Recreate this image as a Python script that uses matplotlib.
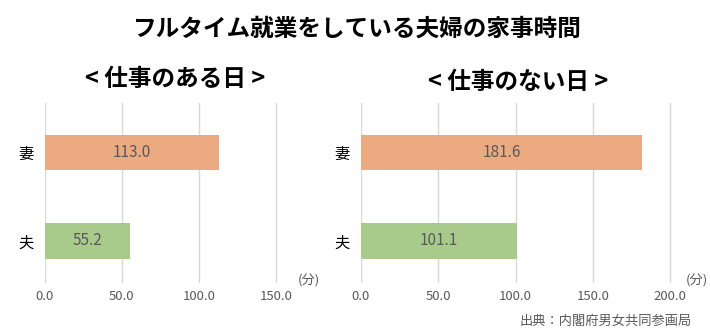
import matplotlib.pyplot as plt

plt.rcParams['font.family'] = ['Noto Sans CJK JP', 'DejaVu Sans']

# data
people = ['夫', '妻']
work_day = [55.2, 113.0]
off_day = [101.1, 181.6]
bar_colors = ['#A8CB8C', '#ECAA80']
left_ticks = [0, 50, 100, 150]
right_ticks = [0, 50, 100, 150, 200]

W, H = 710, 335
fig = plt.figure(figsize=(W / 100, H / 100), dpi=100)


def panel(rect, values, ticks, xmax):
    ax = fig.add_axes(rect)
    ax.barh(range(len(people)), values, height=0.4, color=bar_colors, zorder=2)
    for i, v in enumerate(values):
        ax.text(v / 2, i, f'{v:.1f}', ha='center', va='center',
                fontsize=11, color='#595959', zorder=3)
    ax.set_xlim(0, xmax)
    ax.set_ylim(-0.475, 1.56)
    ax.set_xticks(ticks)
    ax.set_xticklabels([f'{t:.1f}' for t in ticks], fontsize=9.5, color='#595959')
    ax.set_yticks(range(len(people)))
    ax.set_yticklabels(people, fontsize=11, color='black')
    ax.tick_params(length=0, pad=5)
    ax.tick_params(axis='y', pad=8)
    ax.grid(axis='x', color='#D9D9D9', linewidth=1, zorder=0)
    for s in ax.spines.values():
        s.set_visible(False)
    return ax


# 77.3 px per 50 min on both panels
px = 77.3 / 50
ax1 = panel([44.5 / W, (H - 283) / H, 165 * px / W, 180 / H], work_day, left_ticks, 165)
ax2 = panel([361 / W, (H - 283) / H, 220 * px / W, 180 / H], off_day, right_ticks, 220)

fig.text(357 / W, 1 - 29 / H, 'フルタイム就業をしている夫婦の家事時間',
         ha='center', va='center', fontsize=17, fontweight='bold')
fig.text(175 / W, 1 - 79 / H, '< 仕事のある日 >', ha='center', va='center',
         fontsize=17, fontweight='bold')
fig.text(518 / W, 1 - 82 / H, '< 仕事のない日 >', ha='center', va='center',
         fontsize=17, fontweight='bold')
fig.text(309 / W, 1 - 281 / H, '(分)', ha='center', va='center', fontsize=9.5, color='#595959')
fig.text(697 / W, 1 - 281 / H, '(分)', ha='center', va='center', fontsize=9.5, color='#595959')
fig.text(692 / W, 1 - 321 / H, '出典：内閣府男女共同参画局', ha='right', va='center',
         fontsize=9.5, color='#595959')

fig.savefig('out.png', dpi=100)
